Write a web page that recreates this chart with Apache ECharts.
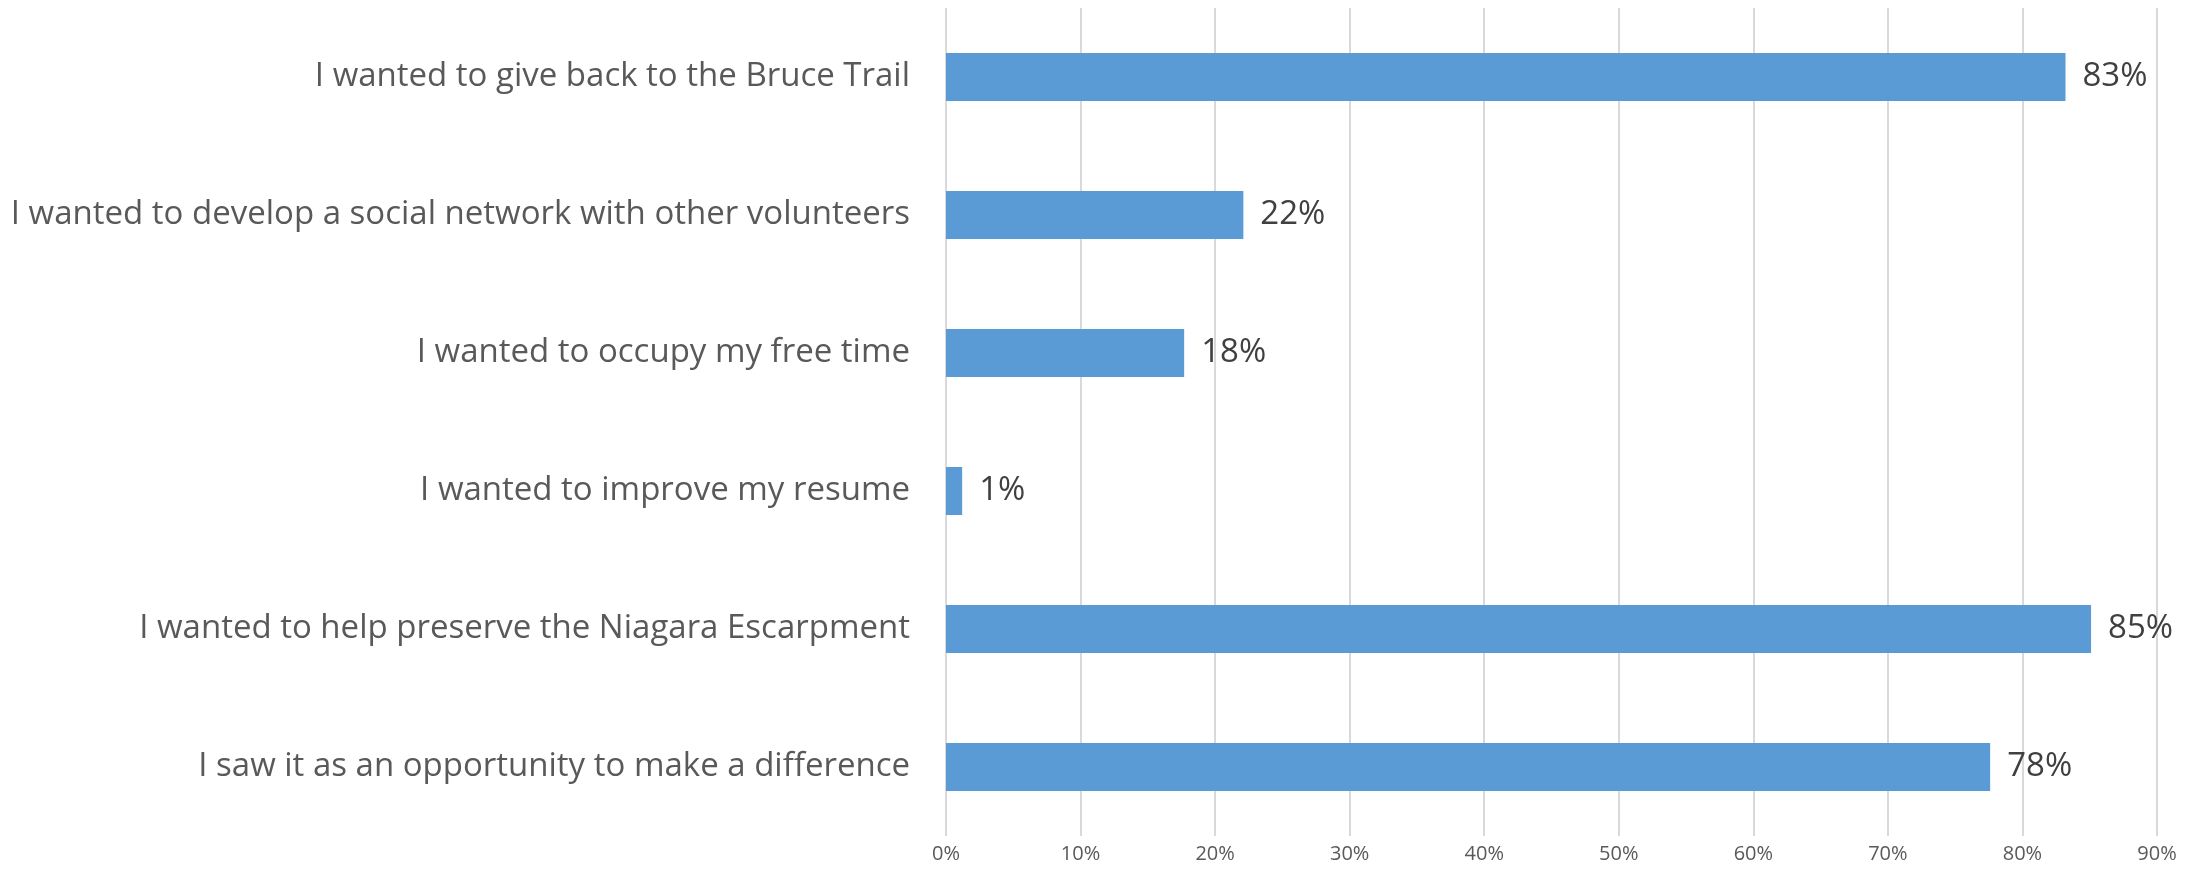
<!DOCTYPE html>
<html style="height: 100%">
<head>
    <meta charset="UTF-8">
    <title>Bruce Trail volunteers</title>
    <script src="https://cdn.jsdelivr.net/npm/echarts@6/dist/echarts.min.js"></script>
</head>
<body style="height: 100%; margin: 0; background: #fff">
    <div id="main" style="width: 2203px; height: 872px;"></div>
    <script>
        // reasons, top to bottom
        var reasons = [
            'I wanted to give back to the Bruce Trail',
            'I wanted to develop a social network with other volunteers',
            'I wanted to occupy my free time',
            'I wanted to improve my resume',
            'I wanted to help preserve the Niagara Escarpment',
            'I saw it as an opportunity to make a difference'
        ];
        var shares = [83.2, 22.1, 17.7, 1.2, 85.1, 77.6];
        var axisTicks = [0, 10, 20, 30, 40, 50, 60, 70, 80, 90];

        var myChart = echarts.init(document.getElementById('main'));
        var fontFam = '"Open Sans", "Noto Sans", sans-serif';

        var option = {
            animation: false,
            grid: {
                left: 946,
                right: 46,
                top: 8,
                bottom: 36
            },
            xAxis: {
                type: 'value',
                min: axisTicks[0],
                max: axisTicks[axisTicks.length - 1],
                interval: 10,
                axisLine: { show: false },
                axisTick: { show: false },
                axisLabel: {
                    formatter: '{value}%',
                    color: '#595959',
                    fontFamily: fontFam,
                    fontSize: 20,
                    margin: 8
                },
                splitLine: { lineStyle: { color: '#d9d9d9', width: 2 } }
            },
            yAxis: {
                type: 'category',
                inverse: true,
                data: reasons,
                axisLine: { show: false },
                axisTick: { show: false },
                axisLabel: {
                    color: '#595959',
                    fontFamily: fontFam,
                    fontSize: 33,
                    margin: 36
                }
            },
            series: [{
                type: 'bar',
                data: shares,
                barWidth: 48,
                itemStyle: { color: '#5b9bd5' },
                label: {
                    show: true,
                    position: 'right',
                    distance: 17,
                    color: '#404040',
                    fontFamily: fontFam,
                    fontSize: 33,
                    formatter: function (p) { return Math.round(p.value) + '%'; }
                }
            }]
        };

        myChart.setOption(option);
    </script>
</body>
</html>
